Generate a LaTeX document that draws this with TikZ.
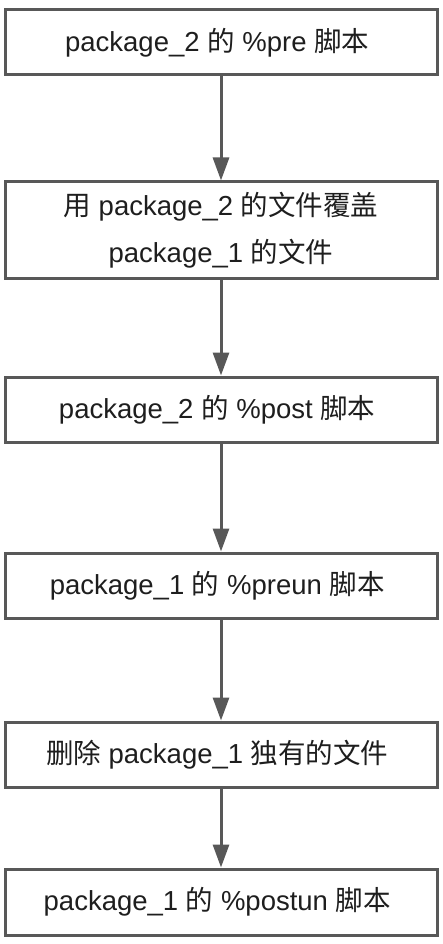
\documentclass[tikz,border=0pt]{standalone}
\usepackage{fontspec}
\setmainfont{Liberation Sans}
\newfontfamily\cjk{Noto Sans CJK SC}
\usepackage{tikz}
\usetikzlibrary{positioning}
\usetikzlibrary{arrows.meta}
\definecolor{edgegray}{HTML}{585858}
\definecolor{textgray}{HTML}{1E1E1E}

\tikzset{
    stepbox/.style={rectangle, draw=edgegray, line width=3pt, fill=white,
        minimum width=432pt, minimum height=65pt, inner sep=0pt,
        align=center, text=textgray, font=\fontsize{27.5}{47}\selectfont},
    flow/.style={draw=edgegray, line width=3pt,
        -{Triangle[width=16pt, length=23pt]}}
}

\begin{document}
\begin{tikzpicture}[x=1pt, y=-1pt]
    \useasboundingbox (0,0) rectangle (442,944);
    \path
        node at (221,42.5)  [stepbox] (pre2)    { package\_2 {\cjk 的} \%pre {\cjk 脚本} }
        node at (221,230)   [stepbox, minimum height=96pt] (copy)
            { {\cjk 用} package\_2 {\cjk 的文件覆盖}\\ package\_1 {\cjk 的文件} }
        node at (221,409.5) [stepbox] (post2)   { package\_2 {\cjk 的} \%post {\cjk 脚本} }
        node at (221,585.5) [stepbox] (preun1)  { package\_1 {\cjk 的} \%preun {\cjk 脚本} }
        node at (221,754.5) [stepbox] (remove)  { {\cjk 删除} package\_1 {\cjk 独有的文件} }
        node at (221,902)   [stepbox, minimum height=66pt] (postun1) { package\_1 {\cjk 的} \%postun {\cjk 脚本} };
    \draw[flow] (pre2) -- (copy);
    \draw[flow] (copy) -- (post2);
    \draw[flow] (post2) -- (preun1);
    \draw[flow] (preun1) -- (remove);
    \draw[flow] (remove) -- (postun1);
\end{tikzpicture}
\end{document}
